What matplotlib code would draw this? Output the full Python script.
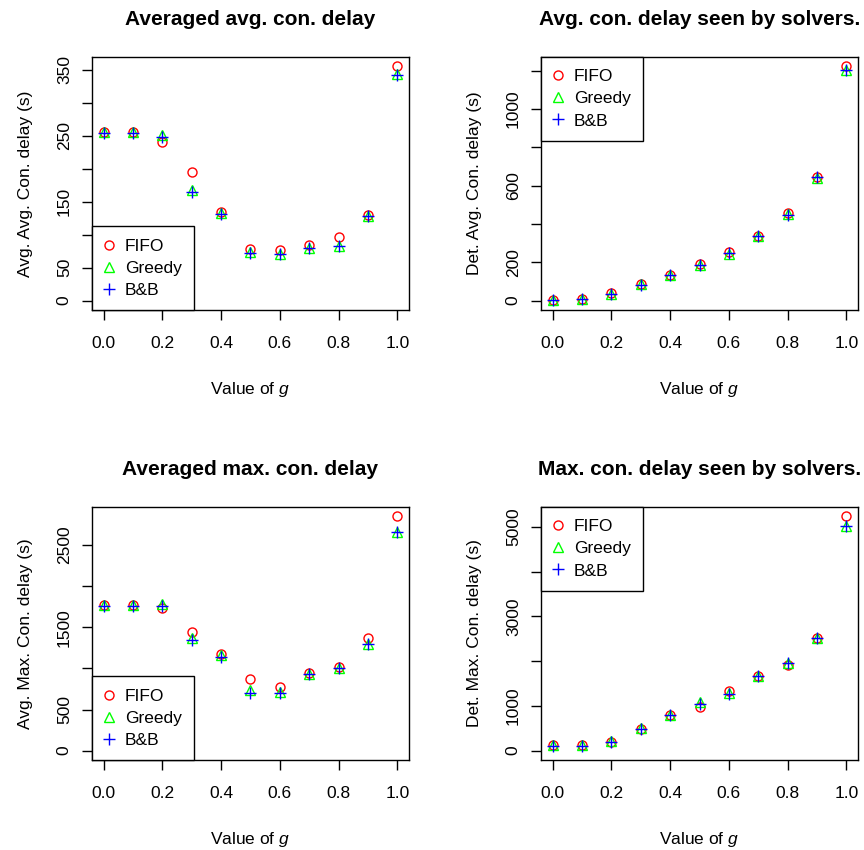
import matplotlib
matplotlib.use("Agg")
import matplotlib.pyplot as plt
import numpy as np

plt.rcParams['font.family'] = ['Liberation Sans', 'DejaVu Sans']
plt.rcParams['mathtext.fontset'] = 'custom'
plt.rcParams['mathtext.it'] = 'Liberation Sans:italic'

g = [0.0, 0.1, 0.2, 0.3, 0.4, 0.5, 0.6, 0.7, 0.8, 0.9, 1.0]

# Averaged avg. con. delay
avg_fifo = [256, 256, 241, 195, 134, 78, 77, 85, 97, 130, 355]
avg_greedy = [255, 255, 251, 168, 133, 73, 71, 79, 83, 129, 343]
avg_bb = [254, 254, 248, 165, 131, 72, 70, 79, 83, 128, 342]

# Avg. con. delay seen by solvers
det_avg_fifo = [5, 9, 38, 87, 136, 191, 252, 339, 457, 643, 1223]
det_avg_greedy = [3, 7, 35, 85, 135, 186, 245, 338, 453, 641, 1205]
det_avg_bb = [5, 9, 35, 83, 136, 186, 249, 336, 449, 643, 1205]

# Averaged max. con. delay
max_fifo = [1769, 1769, 1740, 1448, 1176, 868, 771, 941, 1014, 1375, 2848]
max_greedy = [1769, 1775, 1781, 1367, 1160, 738, 718, 933, 1002, 1294, 2657]
max_bb = [1761, 1761, 1761, 1339, 1144, 706, 698, 933, 1002, 1294, 2657]

# Max. con. delay seen by solvers
det_max_fifo = [127, 127, 201, 485, 806, 970, 1343, 1672, 1918, 2515, 5239]
det_max_greedy = [127, 127, 224, 508, 806, 1097, 1284, 1679, 1955, 2530, 5015]
det_max_bb = [112, 112, 187, 478, 806, 1045, 1269, 1679, 1970, 2530, 5015]

xticks = [0.0, 0.2, 0.4, 0.6, 0.8, 1.0]

panels = [
    ("Averaged avg. con. delay", "Avg. Avg. Con. delay (s)",
     (avg_fifo, avg_greedy, avg_bb), np.arange(0, 351, 50), [0, 50, 150, 250, 350], "lower left"),
    ("Avg. con. delay seen by solvers.", "Det. Avg. Con. delay (s)",
     (det_avg_fifo, det_avg_greedy, det_avg_bb), np.arange(0, 1201, 200), [0, 200, 600, 1000], "upper left"),
    ("Averaged max. con. delay", "Avg. Max. Con. delay (s)",
     (max_fifo, max_greedy, max_bb), np.arange(0, 2501, 500), [0, 500, 1500, 2500], "lower left"),
    ("Max. con. delay seen by solvers.", "Det. Max. Con. delay (s)",
     (det_max_fifo, det_max_greedy, det_max_bb), np.arange(0, 5001, 1000), [0, 1000, 3000, 5000], "upper left"),
]

W, H = 864, 850
fig = plt.figure(figsize=(W / 100, H / 100), dpi=100)
boxes = [(92, 57), (541, 57), (92, 507), (541, 507)]
bw, bh = 317, 253
fs = 12.5

for (title, ylabel, series, yt, ylab, loc), (x0, y0) in zip(panels, boxes):
    ax = fig.add_axes([x0 / W, (H - y0 - bh) / H, bw / W, bh / H])
    fifo, greedy, bb = series
    ax.plot(g, fifo, 'o', ms=6.5, mfc='none', mec='#FF0000', mew=1.0, label='FIFO')
    ax.plot(g, greedy, '^', ms=7, mfc='none', mec='#00FF00', mew=1.0, label='Greedy')
    ax.plot(g, bb, '+', ms=9, mec='#0000FF', mew=1.0, label='B&B')

    ymax = max(max(fifo), max(greedy), max(bb))
    ax.set_xlim(-0.04, 1.04)
    ax.set_ylim(-0.04 * ymax, 1.04 * ymax)

    ax.set_xticks(xticks)
    ax.set_xticklabels([f"{v:.1f}" for v in xticks])
    ax.set_yticks(yt)
    ax.set_yticklabels([str(v) if v in ylab else "" for v in yt],
                       rotation=90, va='center')
    ax.tick_params(axis='both', direction='out', length=7.5, width=1.0,
                   labelsize=fs, color='black')
    ax.tick_params(axis='x', pad=11)
    ax.tick_params(axis='y', pad=7)
    for s in ax.spines.values():
        s.set_linewidth(1.0)

    ax.set_title(title, fontsize=15, fontweight='bold', pad=23)
    ax.set_xlabel(r"Value of $g$", fontsize=fs, labelpad=21)
    ax.set_ylabel(ylabel, fontsize=fs, labelpad=17)

    leg = ax.legend(loc=loc, borderaxespad=0, fancybox=False, framealpha=1,
                    edgecolor='black', fontsize=fs, labelspacing=0.4,
                    handlelength=0.6, handletextpad=0.6, borderpad=0.7)
    leg.get_frame().set_linewidth(1.0)

fig.savefig("out.png", dpi=100)
